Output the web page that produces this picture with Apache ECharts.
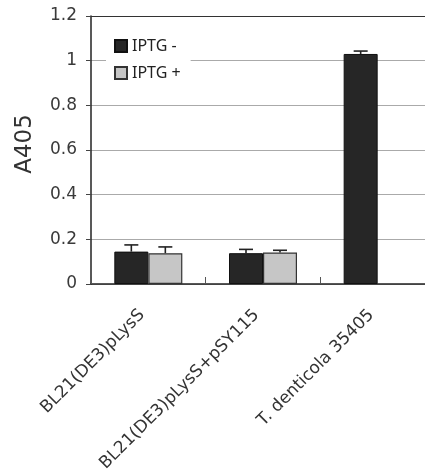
<!DOCTYPE html>
<html>
<head>
<meta charset="utf-8">
<script src="https://cdn.jsdelivr.net/npm/echarts@6/dist/echarts.min.js"></script>
<style>html,body{margin:0;padding:0;background:#fff}#c{width:425px;height:475px}</style>
</head>
<body>
<div id="c"></div>
<script>
const categories = ['BL21(DE3)pLysS', 'BL21(DE3)pLysS+pSY115', 'T. denticola 35405'];
const iptgMinus = [0.145, 0.138, 1.03];
const iptgPlus = [0.138, 0.141, null];
const errMinus = [0.03, 0.017, 0.013];
const errPlus = [0.028, 0.01, null];
const yTicks = { min: 0, max: 1.2, interval: 0.2 };

const BAR_W = 34;
const FONT = 'DejaVu Sans';
const FONT2 = 'Noto Sans';

function errData(vals, errs, sign) {
  const out = [];
  vals.forEach((v, i) => { if (v != null && errs[i] != null) out.push([i, v, errs[i], sign]); });
  return out;
}

function renderErr(params, api) {
  const i = api.value(0), v = api.value(1), e = api.value(2), s = api.value(3);
  const top = api.coord([i, v + e]);
  const base = api.coord([i, v]);
  const x = top[0] + s * BAR_W / 2;
  const style = { stroke: '#222', lineWidth: 1.6 };
  return {
    type: 'group',
    children: [
      { type: 'line', shape: { x1: x, y1: base[1], x2: x, y2: top[1] }, style },
      { type: 'line', shape: { x1: x - 7, y1: top[1], x2: x + 7, y2: top[1] }, style }
    ]
  };
}

const chart = echarts.init(document.getElementById('c'));
chart.setOption({
  animation: false,
  textStyle: { fontFamily: FONT },
  grid: {
    left: 91, top: 16, width: 344, height: 268,
    outerBoundsMode: 'none', containLabel: false
  },
  legend: {
    data: ['IPTG -', 'IPTG +'],
    orient: 'vertical',
    left: 106, top: 30,
    padding: [8, 10, 8, 8],
    backgroundColor: '#fff',
    icon: 'rect',
    itemWidth: 12, itemHeight: 12, itemGap: 11,
    textStyle: { fontSize: 16, color: '#222', fontFamily: FONT2 }
  },
  xAxis: [
    {
      type: 'category',
      data: categories,
      axisLine: { lineStyle: { color: '#222', width: 1.5 } },
      axisTick: { show: true, inside: true, length: 7, lineStyle: { color: '#555', width: 1 } },
      axisLabel: { rotate: 45, fontSize: 17, color: '#333', margin: 22, padding: [0, 9, 0, 0], interval: 0, fontFamily: FONT }
    },
    {
      type: 'category',
      data: categories,
      position: 'top',
      axisLine: { show: true, lineStyle: { color: '#333', width: 1.2 } },
      axisTick: { show: false },
      axisLabel: { show: false },
      splitLine: { show: false }
    }
  ],
  yAxis: {
    type: 'value',
    min: yTicks.min, max: yTicks.max, interval: yTicks.interval,
    name: 'A405',
    nameLocation: 'middle',
    nameGap: 54,
    nameTextStyle: { fontSize: 23, color: '#333', fontFamily: FONT, padding: [0, 0, 0, 12] },
    axisLine: { show: true, lineStyle: { color: '#222', width: 1.5 } },
    axisTick: { show: true, length: 5, lineStyle: { color: '#444' } },
    axisLabel: { fontSize: 17, color: '#3a3a3a', margin: 14, fontFamily: FONT },
    splitLine: { show: true, lineStyle: { color: '#aaa', width: 1 } }
  },
  series: [
    {
      name: 'IPTG -', type: 'bar', data: iptgMinus, barWidth: BAR_W, barGap: '0%',
      itemStyle: { color: '#262626', borderColor: '#111', borderWidth: 1 }
    },
    {
      name: 'IPTG +', type: 'bar', data: iptgPlus, barWidth: BAR_W, barGap: '0%',
      itemStyle: { color: '#c6c6c6', borderColor: '#333', borderWidth: 1.2 }
    },
    { type: 'custom', renderItem: renderErr, data: errData(iptgMinus, errMinus, -1), z: 5 },
    { type: 'custom', renderItem: renderErr, data: errData(iptgPlus, errPlus, 1), z: 5 }
  ]
});
</script>
</body>
</html>
